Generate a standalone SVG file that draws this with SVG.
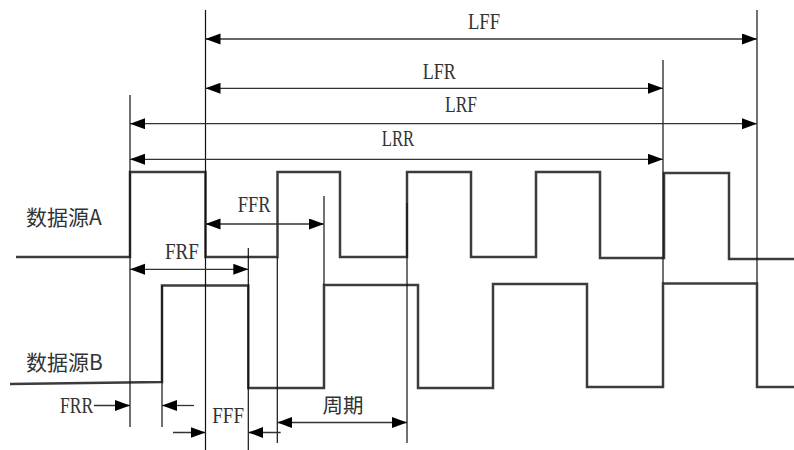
<svg xmlns="http://www.w3.org/2000/svg" width="794" height="450" viewBox="0 0 794 450">
<defs>
<marker id="ah" markerUnits="userSpaceOnUse" markerWidth="16" markerHeight="12" refX="15" refY="5.5" orient="auto-start-reverse">
<path d="M0,0 L15,5.5 L0,11 z" fill="#000"/>
</marker>
<style>
.sig{fill:none;stroke:#3c3c3c;stroke-width:2.5;stroke-linejoin:miter}
.ref{stroke:#111;stroke-width:1.2;fill:none}
.dim{stroke:#333;stroke-width:1.3;fill:none;marker-end:url(#ah)}
.both{marker-start:url(#ah)}
.lat{font-family:"Liberation Serif","Times New Roman",serif;font-size:23px;fill:#333}
.cjk{font-family:"Noto Sans CJK SC","Noto Sans",sans-serif;font-size:21px;fill:#333}
</style>
</defs>
<rect width="794" height="450" fill="#fff"/>
<g id="signalA">
<polyline class="sig" points="16,257 130,257 130,172 205.5,172 205.5,257 277.5,257 277.5,172 340,172 340,257 407,257 407,172 471,172 471,257 536,257 536,172 600,172 600,258 664,258 664,173 729,173 729,259 794,259"/>
<text class="cjk" x="26" y="225">数据源A</text>
</g>
<g id="signalB">
<polyline class="sig" points="10,384 162,382 162,285.5 248.3,285.5 248.3,388 324,388 324,285 418,285 418,388 493,388 493,284 587,284 587,387 663,387 663,283.5 757,283.5 757,387 794,387"/>
<text class="cjk" x="26" y="370">数据源B</text>
</g>
<g id="connectors">
<line class="ref" x1="130" y1="95" x2="130" y2="427"/>
<line class="ref" x1="205.5" y1="10" x2="205.5" y2="450"/>
<line class="ref" x1="162" y1="285" x2="162" y2="427"/>
<line class="ref" x1="248.3" y1="248" x2="248.3" y2="450"/>
<line class="ref" x1="277.3" y1="257" x2="277.3" y2="443"/>
<line class="ref" x1="324" y1="196" x2="324" y2="285"/>
<line class="ref" x1="407" y1="203" x2="407" y2="443"/>
<line class="ref" x1="663" y1="60" x2="663" y2="283"/>
<line class="ref" x1="757" y1="10" x2="757" y2="283"/>
<line class="dim both" x1="205.5" y1="39" x2="757" y2="39"/>
<line class="dim both" x1="205.5" y1="88.3" x2="663" y2="88.3"/>
<line class="dim both" x1="130" y1="123.7" x2="757" y2="123.7"/>
<line class="dim both" x1="130" y1="159.3" x2="663" y2="159.3"/>
<line class="dim both" x1="205.5" y1="224" x2="324" y2="224"/>
<line class="dim both" x1="130" y1="269.3" x2="248.3" y2="269.3"/>
<line class="dim" x1="94" y1="405.5" x2="130" y2="405.5"/>
<line class="dim" x1="194" y1="405.5" x2="162" y2="405.5"/>
<line class="dim" x1="173" y1="432.5" x2="205.5" y2="432.5"/>
<line class="dim" x1="280.7" y1="432.5" x2="248.3" y2="432.5"/>
<line class="dim both" x1="277.3" y1="422.5" x2="407" y2="422.5"/>
</g>
<g id="labels">
<text class="lat" x="468" y="29.3" textLength="32" lengthAdjust="spacingAndGlyphs">LFF</text>
<text class="lat" x="422.7" y="79" textLength="33" lengthAdjust="spacingAndGlyphs">LFR</text>
<text class="lat" x="445" y="111.7" textLength="32" lengthAdjust="spacingAndGlyphs">LRF</text>
<text class="lat" x="381.7" y="145.7" textLength="32.5" lengthAdjust="spacingAndGlyphs">LRR</text>
<text class="lat" x="237.7" y="212.3" textLength="33" lengthAdjust="spacingAndGlyphs">FFR</text>
<text class="lat" x="165" y="259" textLength="34" lengthAdjust="spacingAndGlyphs">FRF</text>
<text class="lat" x="60" y="413.3" textLength="33.3" lengthAdjust="spacingAndGlyphs">FRR</text>
<text class="lat" x="212.3" y="422.7" textLength="31.7" lengthAdjust="spacingAndGlyphs">FFF</text>
<text class="cjk" x="322.5" y="413" style="font-size:20.5px">周期</text>
</g>
</svg>
